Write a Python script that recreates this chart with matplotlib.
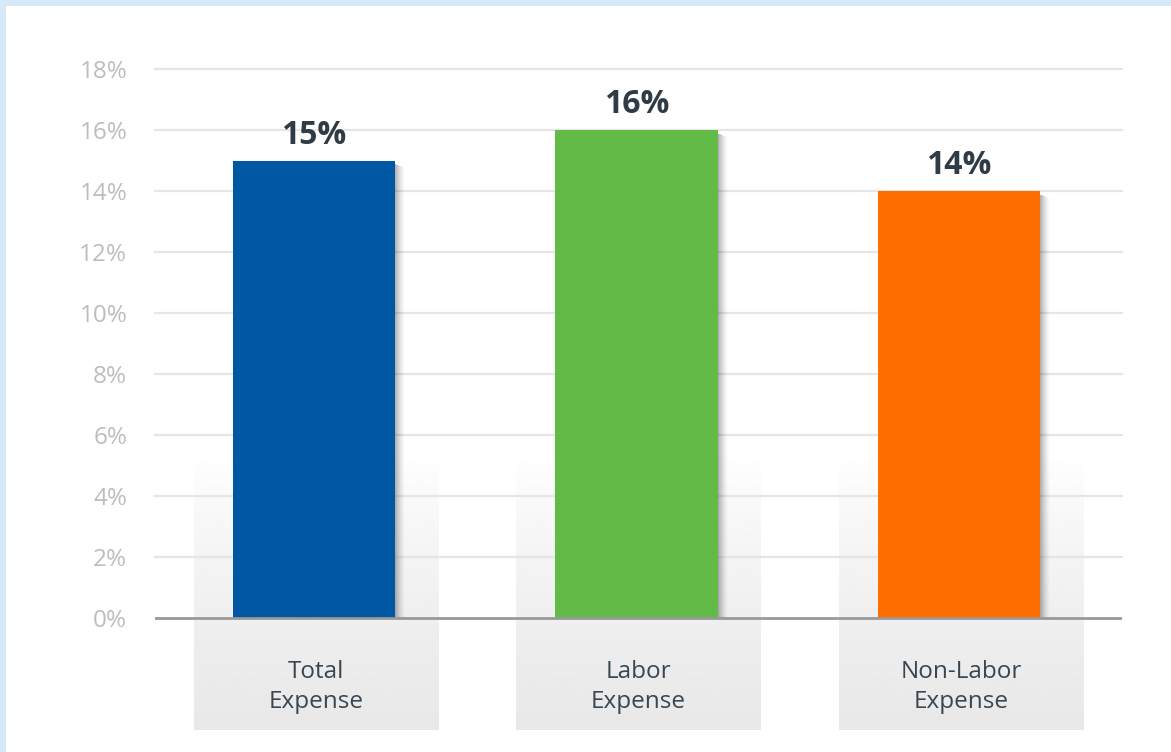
import matplotlib
matplotlib.use("Agg")
import matplotlib.pyplot as plt
from matplotlib.patches import Rectangle
import numpy as np

categories = ["Total\nExpense", "Labor\nExpense", "Non-Labor\nExpense"]
values = [15, 16, 14]
value_labels = ["15%", "16%", "14%"]
colors = ["#0057A3", "#62BA47", "#FF6F00"]
yticks = [0, 2, 4, 6, 8, 10, 12, 14, 16, 18]
ytick_labels = [f"{t}%" for t in yticks]

plt.rcParams['font.family'] = ['Open Sans', 'DejaVu Sans']

W, H = 1171, 752
fig = plt.figure(figsize=(W / 100, H / 100), dpi=100)
fig.patch.set_facecolor("white")

# light blue frame on top and left
fig.patches.append(Rectangle((0, 1 - 6 / H), 1, 6 / H, transform=fig.transFigure,
                             facecolor="#D7E9F8", edgecolor="none", zorder=0))
fig.patches.append(Rectangle((0, 0), 6 / W, 1, transform=fig.transFigure,
                             facecolor="#D7E9F8", edgecolor="none", zorder=0))

ax = fig.add_axes([155 / W, (H - 730) / H, 967 / W, (730 - 69) / H])
ax.set_facecolor("none")
ymin = -3.66
ax.set_xlim(-0.5, 2.5)
ax.set_ylim(ymin, 18)
for s in ax.spines.values():
    s.set_visible(False)
ax.set_xticks([])
ax.set_yticks(yticks)
ax.set_yticklabels(ytick_labels, fontsize=17.5, color="#BDBDBD")
ax.tick_params(axis="y", length=0, pad=20)

x = np.arange(len(categories))

# gradient panels behind categories
panel_top = 5.36
half_p = 0.3785
grad_y = np.linspace(0, 1, 256)
frac0 = (panel_top - 0) / (panel_top - ymin)
vals = np.where(grad_y < frac0,
                1.0 - (1.0 - 0.937) * (grad_y / frac0) ** 0.8,
                0.935 - (0.935 - 0.91) * (grad_y - frac0) / (1 - frac0))
img = np.repeat(vals[:, None], 2, axis=1)
for xi in x:
    ax.imshow(img, cmap="gray", vmin=0, vmax=1, extent=[xi - half_p, xi + half_p, ymin, panel_top],
              origin="upper", aspect="auto", zorder=0, interpolation="bilinear")

# gridlines
for t in yticks[1:]:
    ax.axhline(t, color="#E6E6E6", lw=1.6, zorder=1, clip_on=False)
ax.axhline(0, color="#999999", lw=2.0, zorder=4)

# bars with soft right shadow
bw = 0.503
px = 1 / 322.3
shift = -2 * px
for xi, v, c in zip(x, values, colors):
    bx = xi + shift
    for k in range(10):
        a = 0.3 * (1 - k / 10) ** 1.5
        ax.add_patch(Rectangle((bx + bw / 2 + k * px, 0.0), px * 1.05, v - 0.12 - k * 0.012,
                               facecolor="black", alpha=a, edgecolor="none", zorder=2))
    ax.bar(bx, v, width=bw, color=c, zorder=3)

for xi, v, lab in zip(x, values, value_labels):
    ax.annotate(lab, (xi + shift, v), xytext=(0, 12), textcoords="offset points",
                ha="center", va="baseline", fontsize=23, fontweight="bold", color="#2F3B45")

for xi, lab in zip(x, categories):
    ax.text(xi, -2.25, lab, ha="center", va="center", fontsize=17.5, color="#3A4650",
            linespacing=1.32)

fig.savefig("out.png", dpi=100, facecolor=fig.get_facecolor())
